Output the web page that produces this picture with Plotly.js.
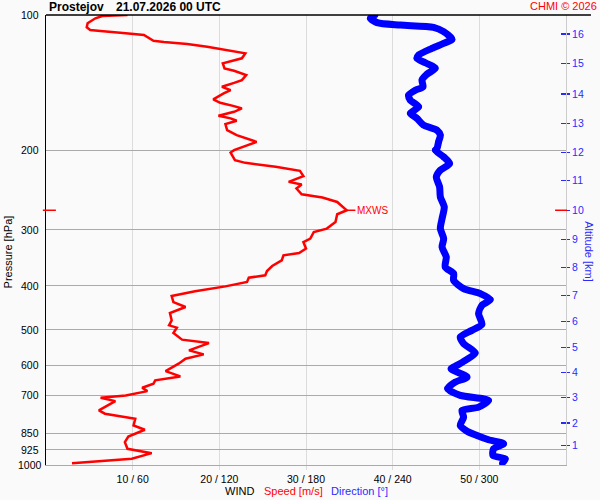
<!DOCTYPE html>
<html>
<head>
<meta charset="utf-8">
<script src="https://cdn.plot.ly/plotly-3.0.1.min.js"></script>
<style>html,body{margin:0;padding:0;background:#fafafa;}#chart{width:600px;height:500px;}</style>
</head>
<body>
<div id="chart"></div>
<script>
// ---- data ----
const stationName = "Prostejov";
const dateLabel = "21.07.2026 00 UTC";
const creditLabel = "CHMI © 2026";

const pressureLevels = [100, 200, 300, 400, 500, 600, 700, 850, 925, 1000];
const speedTicks = [10, 20, 30, 40, 50];
const directionTicks = [60, 120, 180, 240, 300];
const altitudeKm = [1, 2, 3, 4, 5, 6, 7, 8, 9, 10, 11, 12, 13, 14, 15, 16];
const altitudePressure = [904.1, 806.5, 707.2, 623.5, 548.6, 479.4, 420.5, 364.4, 315.1, 271.6, 233.5, 201.9, 174.1, 149.8, 128.0, 110.2];

const speedPressure = [100,100.5,101.7,104.3,106.5,108.0,108.5,109.1,109.8,110.8,
  112.1,114.1,114.8,116.0,117.6,119.0,120.1,121.7,124.8,126.6,
  128.1,131.4,133.0,136.0,139.5,141.5,144.4,146.9,149.4,154.0,
  156.7,159.4,161.3,164.1,167.5,169.7,171.8,174.8,180.3,184.9,
  188.1,191.4,194.9,199.7,202.2,210.2,213.1,217.5,222.0,228.1,
  234.9,238.1,243.0,250.2,254.5,260.3,271.6,277.2,288.3,298.3,
  303.5,314.0,319.5,330.4,338.0,342.0,350.9,361.3,370.7,378.9,
  383.4,392.1,400.9,411.2,421.3,434.4,445.6,459.5,477.0,489.4,
  495.2,509.1,526.6,535.8,556.3,567.8,580.4,595.5,618.4,635.5,
  648.6,659.7,673.4,685.2,700.4,708.7,721.2,756.4,769.2,789.1,
  816.7,835.0,864.2,889.9,920.4,941.2,968.8,982.2,990.8];
const speedMs = [9.4,6.5,5.7,4.8,4.7,5.1,6.3,7.4,9.2,11.3,
  11.8,12.4,13.6,16.3,18.6,20.1,21.7,23.0,22.6,21.3,
  20.4,20.6,21.7,23.1,22.6,21.7,20.3,21.3,20.5,19.3,
  20.1,21.7,22.6,21.7,19.9,21.3,22.0,20.7,20.9,22.0,
  23.2,24.3,23.2,21.7,21.3,21.8,23.0,26.5,29.3,29.7,
  28.0,29.5,28.9,29.5,31.9,33.6,34.7,33.6,33.4,32.4,
  30.9,30.5,29.7,30.0,29.2,27.4,27.2,26.1,25.5,25.3,
  23.4,23.2,20.7,17.2,14.5,14.7,16.1,14.3,14.5,14.2,
  15.1,14.7,15.7,18.8,16.5,18.2,16.1,15.3,13.8,15.5,
  12.6,12.4,11.1,11.7,9.2,6.3,8.0,6.1,6.8,10.3,
  10.1,11.4,9.5,9.1,9.4,12.2,9.9,6.1,3.0];

const directionPressure = [100,101.7,104.0,105.3,106.5,108.9,113.3,115.6,118.6,122.7,
  124.8,127.7,131.4,135.3,139.5,144.4,146.9,150.7,154.6,160.0,
  165.4,169.7,175.7,180.3,184.9,191.4,197.9,199.7,206.7,213.8,
  221.2,228.9,241.0,253.7,267.0,283.4,298.3,314.0,327.8,345.0,
  363.1,375.5,388.7,405.5,416.0,429.0,441.8,461.0,486.8,502.1,
  519.6,537.4,563.9,585.5,600.7,610.9,637.8,654.3,676.8,700.4,
  718.6,743.7,756.4,782.7,816.7,841.0,859.8,878.8,897.0,920.4,
  952.6,968.8,990.8];
const directionDeg = [228,224.5,229.2,245.3,268.3,275.3,281.1,275.3,267.2,258.0,
  256.8,262.6,269.5,263.8,260.3,261.0,255.7,251.0,252.2,258.0,
  252.2,256.8,261.4,270.7,273.0,271.8,270.7,269.5,275.3,279.4,
  273.0,270.2,272.5,273.0,275.7,274.2,273.0,275.3,274.2,277.1,
  276.4,282.2,282.2,289.1,300.7,307.6,301.8,299.5,301.8,294.9,
  286.8,289.1,297.2,290.3,284.5,280.4,291.5,283.4,278.0,286.8,
  306.4,299.5,288.0,289.1,286.8,291.5,298.4,306.4,316.8,309.9,
  309.5,318.0,315.7];

// ---- derived ----
let maxIdx = 0;
speedMs.forEach((v, i) => { if (v > speedMs[maxIdx]) maxIdx = i; });
const maxWindSpeed = speedMs[maxIdx];
const maxWindPressure = speedPressure[maxIdx];

const FONT = "Liberation Sans, Arial, sans-serif";
const RED = "#ff0000";
const BLUE = "#0000ff";
const LBLUE = "#2a2aff";

const traces = [
  {
    x: speedMs, y: speedPressure, xaxis: "x", yaxis: "y",
    type: "scatter", mode: "lines",
    line: {color: RED, width: 2.5},
    hoverinfo: "skip"
  },
  {
    x: directionDeg, y: directionPressure, xaxis: "x2", yaxis: "y",
    type: "scatter", mode: "lines+markers",
    line: {color: BLUE, width: 7, shape: "spline", smoothing: 0.7},
    marker: {color: BLUE, size: 6},
    hoverinfo: "skip"
  }
];

const annotations = [];
pressureLevels.forEach(p => {
  annotations.push({
    xref: "paper", yref: "y", x: -0.031, y: Math.log10(p),
    text: String(p), showarrow: false, xanchor: "center", yanchor: "middle",
    font: {family: FONT, size: 10.5, color: "#000"}
  });
});
annotations.push(
  {xref: "paper", yref: "paper", x: 0.002, y: 1.0178, text: "<b>" + stationName + "</b>",
   showarrow: false, xanchor: "left", yanchor: "middle", font: {family: FONT, size: 12, color: "#000"}},
  {xref: "paper", yref: "paper", x: 0.131, y: 1.0178, text: "<b>" + dateLabel + "</b>",
   showarrow: false, xanchor: "left", yanchor: "middle", font: {family: FONT, size: 12, color: "#000"}},
  {xref: "paper", yref: "paper", x: 1.063, y: 1.02, text: creditLabel,
   showarrow: false, xanchor: "right", yanchor: "middle", font: {family: FONT, size: 11, color: RED}},
  {xref: "paper", yref: "paper", x: -0.0725, y: 0.473, text: "Pressure [hPa]", textangle: -90,
   showarrow: false, xanchor: "center", yanchor: "middle", font: {family: FONT, size: 11, color: "#000"}},
  {xref: "paper", yref: "paper", x: 1.044, y: 0.473, text: "Altitude [km]", textangle: 90,
   showarrow: false, xanchor: "center", yanchor: "middle", font: {family: FONT, size: 11, color: LBLUE}},
  {xref: "paper", yref: "paper", x: 0.3715, y: -0.057, text: "WIND",
   showarrow: false, xanchor: "center", yanchor: "middle", font: {family: FONT, size: 11, color: "#000"}},
  {xref: "paper", yref: "paper", x: 0.475, y: -0.057, text: "Speed [m/s]",
   showarrow: false, xanchor: "center", yanchor: "middle", font: {family: FONT, size: 11, color: RED}},
  {xref: "paper", yref: "paper", x: 0.603, y: -0.057, text: "Direction [°]",
   showarrow: false, xanchor: "center", yanchor: "middle", font: {family: FONT, size: 11, color: LBLUE}},
  {xref: "x", yref: "y", x: maxWindSpeed + 1.0, y: Math.log10(maxWindPressure), text: "MXWS",
   showarrow: false, xanchor: "left", yanchor: "middle", font: {family: FONT, size: 10, color: RED}}
);

const shapes = [
  {type: "line", xref: "paper", yref: "paper", x0: 0, x1: 1.048, y0: 1, y1: 1,
   line: {color: "#000", width: 1.3}},
  {type: "line", xref: "paper", yref: "y", x0: -0.006, x1: 0.019, y0: maxWindPressure, y1: maxWindPressure,
   line: {color: RED, width: 1.5}},
  {type: "line", xref: "paper", yref: "y", x0: 0.979, x1: 1.002, y0: maxWindPressure, y1: maxWindPressure,
   line: {color: RED, width: 1.5}},
  {type: "line", xref: "x", yref: "y", x0: maxWindSpeed, x1: maxWindSpeed + 1.0, y0: maxWindPressure, y1: maxWindPressure,
   line: {color: RED, width: 1.5}}
];

const layout = {
  width: 600, height: 500,
  margin: {l: 46, r: 34, t: 15, b: 35, pad: 0},
  paper_bgcolor: "#fafafa", plot_bgcolor: "#fafafa",
  showlegend: false,
  font: {family: FONT, size: 11, color: "#000"},
  xaxis: {
    range: [0, 60], tickmode: "array", tickvals: speedTicks,
    ticktext: speedTicks.map((s, i) => s + " / " + directionTicks[i]),
    showgrid: true, gridcolor: "#dcdcdc", gridwidth: 1,
    ticks: "outside", ticklen: 4, tickcolor: "#dcdcdc",
    tickfont: {family: FONT, size: 10.5, color: "#000"},
    zeroline: false, showline: true, linecolor: "#aaaaaa", linewidth: 1,
    fixedrange: true
  },
  xaxis2: {range: [0, 360], overlaying: "x", visible: false, fixedrange: true},
  yaxis: {
    type: "log", range: [3, 2], tickmode: "array", tickvals: pressureLevels,
    showticklabels: false, ticks: "",
    showgrid: true, gridcolor: "#aaaaaa", gridwidth: 1,
    zeroline: false, showline: true, linecolor: "#000", linewidth: 1.5,
    fixedrange: true
  },
  yaxis2: {
    type: "log", range: [3, 2], overlaying: "y", side: "right",
    tickmode: "array", tickvals: altitudePressure, ticktext: altitudeKm.map(String),
    ticks: "outside", ticklen: 3, tickcolor: LBLUE, tickwidth: 1.2,
    tickfont: {family: FONT, size: 10.5, color: LBLUE},
    showgrid: false, zeroline: false, showline: true, linecolor: "#cccccc", linewidth: 1,
    fixedrange: true
  },
  yaxis3: {
    type: "log", range: [3, 2], overlaying: "y", side: "right",
    tickmode: "array", tickvals: altitudePressure, showticklabels: false,
    ticks: "inside", ticklen: 5, tickcolor: LBLUE, tickwidth: 1.2,
    showgrid: false, zeroline: false, showline: false,
    fixedrange: true
  },
  annotations: annotations,
  shapes: shapes
};

// invisible traces so the right axes get drawn
traces.push({x: [null], y: [null], xaxis: "x", yaxis: "y2", type: "scatter", mode: "lines", hoverinfo: "skip", showlegend: false});
traces.push({x: [null], y: [null], xaxis: "x", yaxis: "y3", type: "scatter", mode: "lines", hoverinfo: "skip", showlegend: false});

Plotly.newPlot("chart", traces, layout, {staticPlot: true, displayModeBar: false});
</script>
</body>
</html>
